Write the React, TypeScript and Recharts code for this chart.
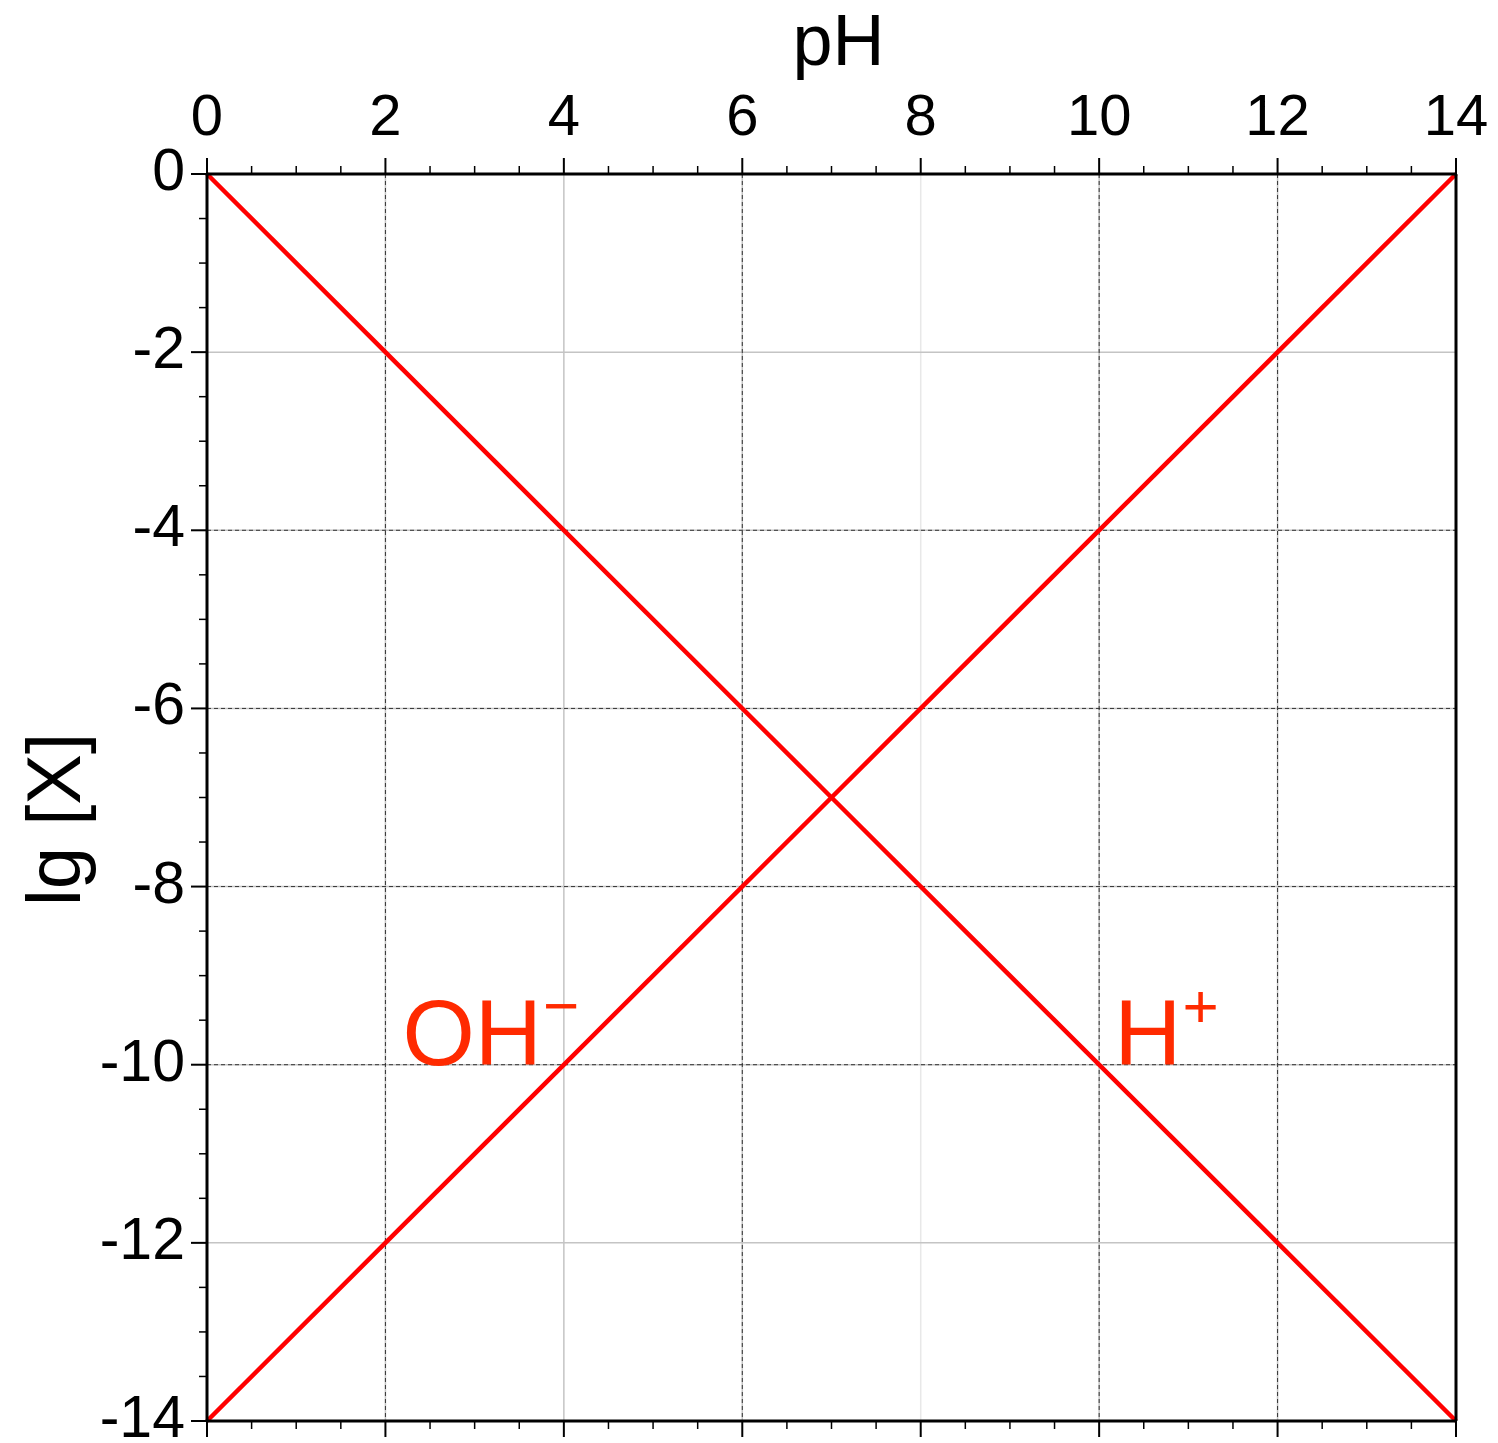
import React from "react";
import {
  LineChart,
  Line,
  XAxis,
  YAxis,
  ReferenceLine,
  ReferenceDot,
} from "recharts";

// pH scale and log concentrations of the two ions
const pH = [0, 7, 14];
const lgH = [0, -7, -14];
const lgOH = [-14, -7, 0];

// tick values (every 0.5 units, labels on every 2)
const xTicks = Array.from({ length: 29 }, (_, i) => i * 0.5);
const yTicks = Array.from({ length: 29 }, (_, i) => -14 + i * 0.5);

// grid lines: all get a light solid line, some get a dark dashed overlay
const gridX = [2, 4, 6, 8, 10, 12];
const gridY = [-2, -4, -6, -8, -10, -12];
const dashedX = [2, 6, 10, 12];
const dashedY = [-4, -6, -8, -10];

// ion labels anchored in data units
const ionLabels = [
  { name: "OH", sup: "\u2212", x: 2.19, y: -10 },
  { name: "H", sup: "+", x: 10.17, y: -10 },
];

const FONT = '"Liberation Sans", Arial, Helvetica, sans-serif';
const RED = "#ff0000";
const LABEL_RED = "#ff2a00";
const TICK = 15;

const W = 1498;
const H = 1443;

const chartData = pH.map((p, i) => ({ pH: p, h: lgH[i], oh: lgOH[i] }));

const isMajor = (v: number) => Math.abs(v % 2) < 1e-9;

const TopTick = (props: any) => {
  const { x, y, payload } = props;
  const edge = y + TICK;
  const major = isMajor(payload.value);
  return (
    <g>
      <line x1={x} x2={x} y1={edge} y2={edge - (major ? 16 : 8)} stroke="#000" strokeWidth={major ? 2 : 1.5} />
      {major && (
        <text x={x} y={edge - 39} textAnchor="middle" fontSize={58} fontFamily={FONT} fill="#000">
          {payload.value}
        </text>
      )}
    </g>
  );
};

const BottomTick = (props: any) => {
  const { x, y, payload } = props;
  const edge = y - TICK;
  const major = isMajor(payload.value);
  return <line x1={x} x2={x} y1={edge} y2={edge + (major ? 16 : 8)} stroke="#000" strokeWidth={major ? 2 : 1.5} />;
};

const LeftTick = (props: any) => {
  const { x, y, payload } = props;
  const edge = x + TICK;
  const major = isMajor(payload.value);
  return (
    <g>
      <line x1={edge} x2={edge - (major ? 16 : 8)} y1={y} y2={y} stroke="#000" strokeWidth={major ? 2 : 1.5} />
      {major && (
        <text x={edge - 22} y={y + 16} textAnchor="end" fontSize={59} fontFamily={FONT} fill="#000">
          {payload.value}
        </text>
      )}
    </g>
  );
};

const RightTick = (props: any) => {
  const { x, y, payload } = props;
  const edge = x - TICK;
  const major = isMajor(payload.value);
  return <line x1={edge} x2={edge + (major ? 16 : 8)} y1={y} y2={y} stroke="#000" strokeWidth={major ? 2 : 1.5} />;
};

const PhTitle = (props: any) => {
  const vb = props.viewBox;
  return (
    <text x={vb.x + vb.width / 2 + 7} y={vb.y + 65} textAnchor="middle" fontSize={72} fontFamily={FONT} fill="#000">
      pH
    </text>
  );
};

const LgTitle = (props: any) => {
  const vb = props.viewBox;
  const cx = 80;
  const cy = vb.y + vb.height / 2 + 22;
  return (
    <text
      x={cx}
      y={cy}
      transform={`rotate(-90 ${cx} ${cy})`}
      textAnchor="middle"
      fontSize={76}
      fontFamily={FONT}
      fill="#000"
    >
      lg [X]
    </text>
  );
};

const ionLabel = (name: string, sup: string) => (props: any) => {
  const vb = props.viewBox;
  return (
    <text x={vb.x} y={vb.y} fontSize={93} fontFamily={FONT} fill={LABEL_RED}>
      {name}
      <tspan fontSize={62} dy={-38} dx={1}>
        {sup}
      </tspan>
    </text>
  );
};

const axisLine = { stroke: "#000", strokeWidth: 3 };

export default function App() {
  return (
    <div style={{ position: "absolute", left: 0, top: 0, width: W, height: H, background: "#fff" }}>
      <LineChart width={W} height={H} data={chartData} margin={{ top: 0, right: 0, bottom: 0, left: 0 }}>
        <XAxis
          xAxisId="top"
          orientation="top"
          type="number"
          dataKey="pH"
          domain={[0, 14]}
          ticks={xTicks}
          interval={0}
          height={174}
          tickSize={TICK}
          tickMargin={0}
          tickLine={false}
          axisLine={axisLine}
          tick={<TopTick />}
          label={{ content: <PhTitle /> }}
        />
        <XAxis
          xAxisId="bottom"
          orientation="bottom"
          type="number"
          dataKey="pH"
          domain={[0, 14]}
          ticks={xTicks}
          interval={0}
          height={22}
          tickSize={TICK}
          tickMargin={0}
          tickLine={false}
          axisLine={axisLine}
          tick={<BottomTick />}
        />
        <YAxis
          yAxisId="left"
          orientation="left"
          type="number"
          domain={[-14, 0]}
          ticks={yTicks}
          interval={0}
          width={207}
          tickSize={TICK}
          tickMargin={0}
          tickLine={false}
          axisLine={axisLine}
          tick={<LeftTick />}
          label={{ content: <LgTitle /> }}
        />
        <YAxis
          yAxisId="right"
          orientation="right"
          type="number"
          domain={[-14, 0]}
          ticks={yTicks}
          interval={0}
          width={42}
          tickSize={TICK}
          tickMargin={0}
          tickLine={false}
          axisLine={axisLine}
          tick={<RightTick />}
        />

        {gridX.map((v) => (
          <ReferenceLine
            key={`gx${v}`}
            xAxisId="top"
            yAxisId="left"
            x={v}
            stroke={v === 8 ? "#e8e8e8" : "#c4c4c4"}
            strokeWidth={1.5}
          />
        ))}
        {gridY.map((v) => (
          <ReferenceLine key={`gy${v}`} xAxisId="top" yAxisId="left" y={v} stroke="#c4c4c4" strokeWidth={1.5} />
        ))}
        {dashedX.map((v) => (
          <ReferenceLine
            key={`dx${v}`}
            xAxisId="top"
            yAxisId="left"
            x={v}
            stroke="#333"
            strokeWidth={1}
            strokeDasharray="4 3"
          />
        ))}
        {dashedY.map((v) => (
          <ReferenceLine
            key={`dy${v}`}
            xAxisId="top"
            yAxisId="left"
            y={v}
            stroke="#333"
            strokeWidth={1}
            strokeDasharray="4 3"
          />
        ))}

        <Line
          xAxisId="top"
          yAxisId="left"
          type="linear"
          dataKey="h"
          stroke={RED}
          strokeWidth={4.5}
          dot={false}
          isAnimationActive={false}
        />
        <Line
          xAxisId="top"
          yAxisId="left"
          type="linear"
          dataKey="oh"
          stroke={RED}
          strokeWidth={4.5}
          dot={false}
          isAnimationActive={false}
        />

        {ionLabels.map((l) => (
          <ReferenceDot
            key={l.name}
            xAxisId="top"
            yAxisId="left"
            x={l.x}
            y={l.y}
            r={0}
            fill="none"
            stroke="none"
            label={{ content: ionLabel(l.name, l.sup) }}
          />
        ))}
      </LineChart>
    </div>
  );
}
